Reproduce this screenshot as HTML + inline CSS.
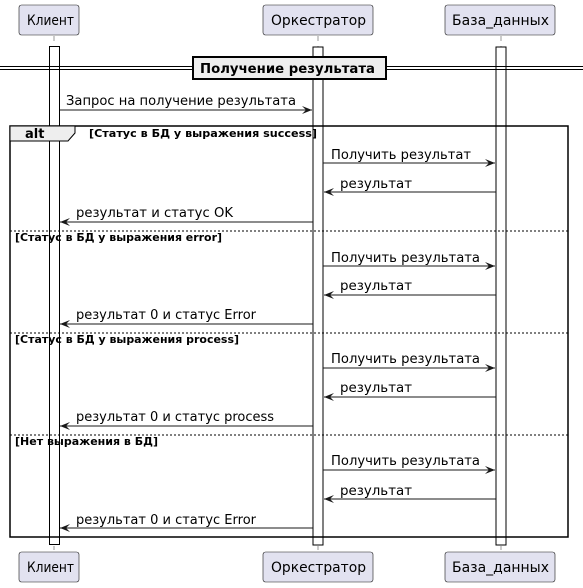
<!DOCTYPE html>
<html><head><meta charset="utf-8"><style>
html,body{margin:0;padding:0;background:#fff;}
svg{display:block;}
text{font-family:"DejaVu Sans","Liberation Sans",sans-serif;fill:#000;}
.m{font-size:13px;}
.g{font-size:10.5px;font-weight:bold;}
.p{font-size:14px;}
</style></head><body>
<svg width="583" height="588" viewBox="0 0 583 588" xmlns="http://www.w3.org/2000/svg">
<g stroke="#555" stroke-width="0.6" stroke-dasharray="5,5">
<line x1="54" y1="36" x2="54" y2="550"/>
<line x1="318" y1="36" x2="318" y2="550"/>
<line x1="501" y1="36" x2="501" y2="550"/>
</g>
<g fill="#fff" stroke="#000" stroke-width="1">
<rect x="49.5" y="46.5" width="10" height="498"/>
<rect x="313" y="47" width="10" height="498"/>
<rect x="496" y="47" width="10" height="498"/>
</g>
<g fill="#E2E2F0" stroke="#181818" stroke-width="0.6">
<rect x="19" y="5" width="60" height="30" rx="2.5"/>
<rect x="263" y="5" width="110" height="30" rx="2.5"/>
<rect x="445" y="5" width="110" height="30" rx="2.5"/>
<rect x="19" y="552" width="60" height="30" rx="2.5"/>
<rect x="263" y="552" width="110" height="30" rx="2.5"/>
<rect x="445" y="552" width="110" height="30" rx="2.5"/>
</g>
<text class="p" x="27" y="25" textLength="47" lengthAdjust="spacingAndGlyphs">Клиент</text>
<text class="p" x="271" y="25" textLength="95" lengthAdjust="spacingAndGlyphs">Оркестратор</text>
<text class="p" x="452" y="25" textLength="97" lengthAdjust="spacingAndGlyphs">База_данных</text>
<text class="p" x="27" y="572" textLength="47" lengthAdjust="spacingAndGlyphs">Клиент</text>
<text class="p" x="271" y="572" textLength="95" lengthAdjust="spacingAndGlyphs">Оркестратор</text>
<text class="p" x="452" y="572" textLength="97" lengthAdjust="spacingAndGlyphs">База_данных</text>
<line x1="0" y1="66.5" x2="583" y2="66.5" stroke="#000" stroke-width="1"/>
<line x1="0" y1="69.5" x2="583" y2="69.5" stroke="#000" stroke-width="1"/>
<rect x="193" y="57" width="193" height="22" fill="#EEEEEE" stroke="#000" stroke-width="2"/>
<text x="200" y="73" style="font-size:13px;font-weight:bold" textLength="175" lengthAdjust="spacingAndGlyphs">Получение результата</text>
<rect x="10" y="126" width="558" height="411" fill="none" stroke="#000" stroke-width="1.5"/>
<path d="M10,126 H75 V133 L68,141 H10 Z" fill="#EEEEEE" stroke="#000" stroke-width="1"/>
<text x="25" y="138" style="font-size:13px;font-weight:bold">alt</text>
<text class="g" x="89" y="137" textLength="228" lengthAdjust="spacingAndGlyphs">[Статус в БД у выражения success]</text>
<g stroke="#000" stroke-width="1" stroke-dasharray="2,2">
<line x1="10" y1="231" x2="568" y2="231"/>
<line x1="10" y1="333" x2="568" y2="333"/>
<line x1="10" y1="435" x2="568" y2="435"/>
</g>
<text class="g" x="15" y="241" textLength="207" lengthAdjust="spacingAndGlyphs">[Статус в БД у выражения error]</text>
<text class="g" x="15" y="343" textLength="224" lengthAdjust="spacingAndGlyphs">[Статус в БД у выражения process]</text>
<text class="g" x="15" y="445" textLength="143" lengthAdjust="spacingAndGlyphs">[Нет выражения в БД]</text>
<g stroke="#181818" stroke-width="1">
<line x1="60" y1="110" x2="312" y2="110"/>
<line x1="323" y1="163" x2="495" y2="163"/>
<line x1="324" y1="192" x2="496" y2="192"/>
<line x1="60" y1="222" x2="313" y2="222"/>
<line x1="323" y1="266" x2="495" y2="266"/>
<line x1="324" y1="295" x2="496" y2="295"/>
<line x1="60" y1="324" x2="313" y2="324"/>
<line x1="323" y1="368" x2="495" y2="368"/>
<line x1="324" y1="397" x2="496" y2="397"/>
<line x1="60" y1="426" x2="313" y2="426"/>
<line x1="323" y1="470" x2="495" y2="470"/>
<line x1="324" y1="499" x2="496" y2="499"/>
<line x1="60" y1="528" x2="313" y2="528"/>
</g>
<g fill="#181818">
<polygon points="302,106 312,110 302,114 306,110"/>
<polygon points="485,159 495,163 485,167 489,163"/>
<polygon points="334,188 324,192 334,196 330,192"/>
<polygon points="70,218 60,222 70,226 66,222"/>
<polygon points="485,262 495,266 485,270 489,266"/>
<polygon points="334,291 324,295 334,299 330,295"/>
<polygon points="70,320 60,324 70,328 66,324"/>
<polygon points="485,364 495,368 485,372 489,368"/>
<polygon points="334,393 324,397 334,401 330,397"/>
<polygon points="70,422 60,426 70,430 66,426"/>
<polygon points="485,466 495,470 485,474 489,470"/>
<polygon points="334,495 324,499 334,503 330,499"/>
<polygon points="70,524 60,528 70,532 66,528"/>
</g>
<text class="m" x="66" y="105" textLength="230" lengthAdjust="spacingAndGlyphs">Запрос на получение результата</text>
<text class="m" x="331" y="159" textLength="140" lengthAdjust="spacingAndGlyphs">Получить результат</text>
<text class="m" x="340" y="188" textLength="72" lengthAdjust="spacingAndGlyphs">результат</text>
<text class="m" x="76" y="217" textLength="157" lengthAdjust="spacingAndGlyphs">результат и статус OK</text>
<text class="m" x="331" y="262" textLength="149" lengthAdjust="spacingAndGlyphs">Получить результата</text>
<text class="m" x="340" y="290" textLength="72" lengthAdjust="spacingAndGlyphs">результат</text>
<text class="m" x="76" y="319" textLength="180" lengthAdjust="spacingAndGlyphs">результат 0 и статус Error</text>
<text class="m" x="331" y="363" textLength="149" lengthAdjust="spacingAndGlyphs">Получить результата</text>
<text class="m" x="340" y="392" textLength="72" lengthAdjust="spacingAndGlyphs">результат</text>
<text class="m" x="76" y="421" textLength="198" lengthAdjust="spacingAndGlyphs">результат 0 и статус process</text>
<text class="m" x="331" y="465" textLength="149" lengthAdjust="spacingAndGlyphs">Получить результата</text>
<text class="m" x="340" y="495" textLength="72" lengthAdjust="spacingAndGlyphs">результат</text>
<text class="m" x="76" y="524" textLength="180" lengthAdjust="spacingAndGlyphs">результат 0 и статус Error</text>
</svg>
</body></html>
